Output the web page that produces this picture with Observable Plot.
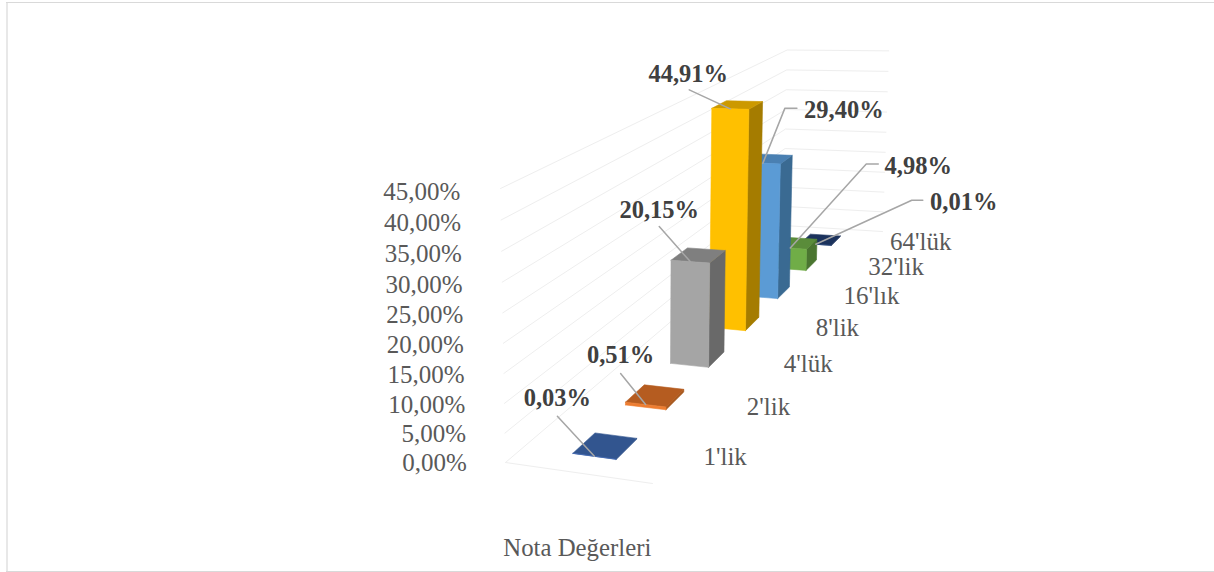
<!DOCTYPE html>
<html><head><meta charset="utf-8">
<script src="https://cdn.jsdelivr.net/npm/d3@7"></script>
<script src="https://cdn.jsdelivr.net/npm/@observablehq/plot@0.6"></script>
<style>html,body{margin:0;padding:0;background:#fff;overflow:hidden}svg{display:block}</style>
</head><body><div id="chart"></div>
<script>
// Data
const categories = ["1'lik","2'lik","4'lük","8'lik","16'lık","32'lik","64'lük"];
const shares = [0.03,0.51,20.15,44.91,29.40,4.98,0.01];
const axisTicks = [0,5,10,15,20,25,30,35,40,45];
const axisTitle = "Nota Değerleri";

// Presentation
const frontColors = ["#3F66B0","#ED7D31","#A5A5A5","#FFC000","#5B9BD5","#70AD47","#264478"];
const topColors   = ["#32558F","#B55C20","#7F7F7F","#CC9900","#4A80B2","#5A8C3A","#1B325C"];
const sideColors  = ["#2A4A80","#A85A20","#696969","#A57C00","#3A6A92","#4A7530","#162A50"];
const leaderOffsets = [
  {end:[-37,-40],label:[-37,-58]},
  {end:[-25,-31],label:[-25,-49]},
  {end:[-31,-35],label:[-31,-51]},
  {end:[-41,-19],label:[-42,-35]},
  {elbow:[22,-55],end:[34,-55],label:[81,-53]},
  {elbow:[76,-84],end:[88,-84],label:[128,-82]},
  {elbow:[96,-44],end:[107,-44],label:[148,-42]}
];

const W = 1214, H = 572;
const serif = "'Liberation Serif'";

// Camera: side u (0..1), depth d (0..1), height h (share / axis max)
const maxShare = d3.max(axisTicks);
function project(u, d, share) {
  const h = share / maxShare;
  const w = 1 - 0.04547*u + 0.5905*d - 0.03725*h;
  return {
    x: (117.35*u + 740.4*d - 23.6*h + 505) / w,
    y: (-0.96*u - 104.1*d - 281*h + 462) / w
  };
}

const n = categories.length;
const barU = [0.35, 0.65];
const barDepth = 0.4 / n;

const gridPts = axisTicks.flatMap(t => [
  {...project(0,0,t), t}, {...project(0,1,t), t}, {...project(1,1,t), t}
]);
const floorFront = [project(0,0,0), project(1,0,0)];

const barMarks = [];
d3.range(n - 1, -1, -1).forEach(i => {
  const c = (i + 0.5) / n, d0 = c - barDepth/2, d1 = c + barDepth/2, v = shares[i];
  const [u0,u1] = barU;
  const faces = [
    [[ [u1,d0,0],[u1,d1,0],[u1,d1,v],[u1,d0,v] ], sideColors[i]],
    [[ [u0,d0,v],[u1,d0,v],[u1,d1,v],[u0,d1,v] ], topColors[i]],
    [[ [u0,d0,0],[u1,d0,0],[u1,d0,v],[u0,d0,v] ], frontColors[i]]
  ];
  for (const [corners, col] of faces) {
    const pts = corners.map(p => project(...p));
    pts.push(pts[0]);
    barMarks.push(Plot.line(pts, {x:"x", y:"y", fill:col, stroke:col, strokeWidth:0.6, curve:"linear"}));
  }
});

const anchors = shares.map((v,i) => project(0.5, (i+0.5)/n - barDepth/2, v));
const leaderPts = anchors.flatMap((a,i) => {
  const o = leaderOffsets[i];
  return [[0,0], ...(o.elbow ? [o.elbow] : []), o.end].map(([dx,dy]) => ({x:a.x+dx, y:a.y+dy, i}));
});
const dataLabels = anchors.map((a,i) => ({
  x: a.x + leaderOffsets[i].label[0],
  y: a.y + leaderOffsets[i].label[1],
  text: shares[i].toFixed(2).replace(".",",") + "%"
}));
const catLabels = categories.map((text,i) => ({...project(1.17,(i+0.5)/n,0), text}));
const tickLabels = axisTicks.map(t => ({...project(-0.28,0,t), text: t.toFixed(2).replace(".",",") + "%"}));
const titlePt = project(0.5,0,0);

const chart = Plot.plot({
  width: W, height: H,
  margin: 0,
  x: {domain:[0,W], range:[0,W], axis:null},
  y: {domain:[0,H], range:[0,H], axis:null},
  style: {background:"#fff", overflow:"hidden"},
  marks: [
    Plot.ruleY([2,571], {x1:6, x2:W, stroke:"#d9d9d9", strokeWidth:1.2}),
    Plot.ruleX([6.5], {y1:2, y2:571, stroke:"#d9d9d9", strokeWidth:1.2}),
    Plot.line(gridPts, {x:"x", y:"y", z:"t", stroke:"#eeeeee", strokeWidth:1, curve:"linear"}),
    Plot.line(floorFront, {x:"x", y:"y", stroke:"#eeeeee", strokeWidth:1, curve:"linear"}),
    ...barMarks,
    Plot.line(leaderPts, {x:"x", y:"y", z:"i", stroke:"#a6a6a6", strokeWidth:1.5, curve:"linear"}),
    Plot.text(tickLabels, {x:"x", y:"y", text:"text", dy:6, textAnchor:"end", fontFamily:serif, fontSize:25, fill:"#595959"}),
    Plot.text(catLabels, {x:"x", y:"y", text:"text", dy:-2, textAnchor:"start", fontFamily:serif, fontSize:25, fill:"#595959"}),
    Plot.text(dataLabels, {x:"x", y:"y", text:"text", fontFamily:serif, fontWeight:"bold", fontSize:24.5, fill:"#404040"}),
    Plot.text([axisTitle], {x:titlePt.x, y:titlePt.y, dy:75, fontFamily:serif, fontSize:24.8, fill:"#595959"})
  ]
});
document.getElementById("chart").append(chart);
</script></body></html>
